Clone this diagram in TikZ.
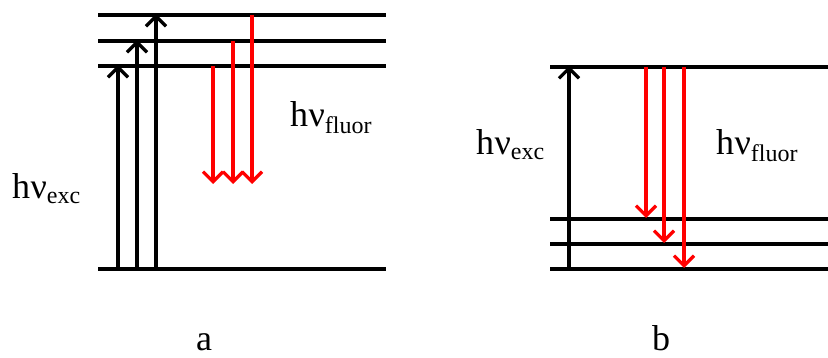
\documentclass[tikz,border=0pt]{standalone}
\usepackage{fontspec}
\setmainfont{Liberation Serif}
\usetikzlibrary{arrows.meta}
\tikzset{
  level/.style={line width=3.6pt, black},
  exc/.style={line width=3.2pt, black, -{Straight Barb[length=10pt,width=20pt,line width=3.2pt]}, shorten >=-1pt},
  fluor/.style={line width=3.2pt, red, -{Straight Barb[length=10pt,width=20pt,line width=3.2pt]}},
  lbl/.style={inner sep=0pt, anchor=base west, font=\fontsize{36}{40}\selectfont},
}
\newcommand{\hvsub}[2]{h\kern0.5pt ν\raisebox{#2}{\fontsize{24}{26}\selectfont #1}}
\begin{document}
\begin{tikzpicture}[x=1pt,y=-1pt]
\useasboundingbox (0,0) rectangle (828,358);
% panel a levels
\coordinate (a1l) at (98,15);  \coordinate (a1r) at (386,15);
\coordinate (a2l) at (98,41);  \coordinate (a2r) at (386,41);
\coordinate (a3l) at (98,66);  \coordinate (a3r) at (386,66);
\coordinate (a0l) at (98,269); \coordinate (a0r) at (386,269);
\draw[level] (a1l) -- (a1r);
\draw[level] (a2l) -- (a2r);
\draw[level] (a3l) -- (a3r);
\draw[level] (a0l) -- (a0r);
% panel a excitation
\coordinate (ea1s) at (118,269); \coordinate (ea1e) at (118,66);
\coordinate (ea2s) at (137,269); \coordinate (ea2e) at (137,41);
\coordinate (ea3s) at (156,269); \coordinate (ea3e) at (156,15);
\draw[exc] (ea1s) -- (ea1e);
\draw[exc] (ea2s) -- (ea2e);
\draw[exc] (ea3s) -- (ea3e);
% panel a fluorescence
\coordinate (fa1s) at (213,66); \coordinate (fa1e) at (213,184);
\coordinate (fa2s) at (233,41); \coordinate (fa2e) at (233,184);
\coordinate (fa3s) at (252,15); \coordinate (fa3e) at (252,184);
\draw[fluor] (fa1s) -- (fa1e);
\draw[fluor] (fa2s) -- (fa2e);
\draw[fluor] (fa3s) -- (fa3e);
% panel b levels
\coordinate (b1l) at (550,67);  \coordinate (b1r) at (828,67);
\coordinate (b2l) at (550,219); \coordinate (b2r) at (828,219);
\coordinate (b3l) at (550,244); \coordinate (b3r) at (828,244);
\coordinate (b0l) at (550,269); \coordinate (b0r) at (828,269);
\draw[level] (b1l) -- (b1r);
\draw[level] (b2l) -- (b2r);
\draw[level] (b3l) -- (b3r);
\draw[level] (b0l) -- (b0r);
% panel b excitation
\coordinate (ebs) at (569,269); \coordinate (ebe) at (569,67);
\draw[exc] (ebs) -- (ebe);
% panel b fluorescence
\coordinate (fb1s) at (646,67); \coordinate (fb1e) at (646,218);
\coordinate (fb2s) at (664,67); \coordinate (fb2e) at (664,243);
\coordinate (fb3s) at (684,67); \coordinate (fb3e) at (684,268);
\draw[fluor] (fb1s) -- (fb1e);
\draw[fluor] (fb2s) -- (fb2e);
\draw[fluor] (fb3s) -- (fb3e);
% labels
\node[lbl] (la1) at (12,199) {\hvsub{exc}{-5pt}};
\node[lbl] (la2) at (290,127) {\hvsub{fluor}{-7pt}};
\node[lbl] (lb1) at (476,155) {\hvsub{exc}{-5pt}};
\node[lbl] (lb2) at (716,155) {\hvsub{fluor}{-7pt}};
\node[lbl] (ta) at (196,350) {a};
\node[lbl] (tb) at (652,351) {b};
\end{tikzpicture}
\end{document}
